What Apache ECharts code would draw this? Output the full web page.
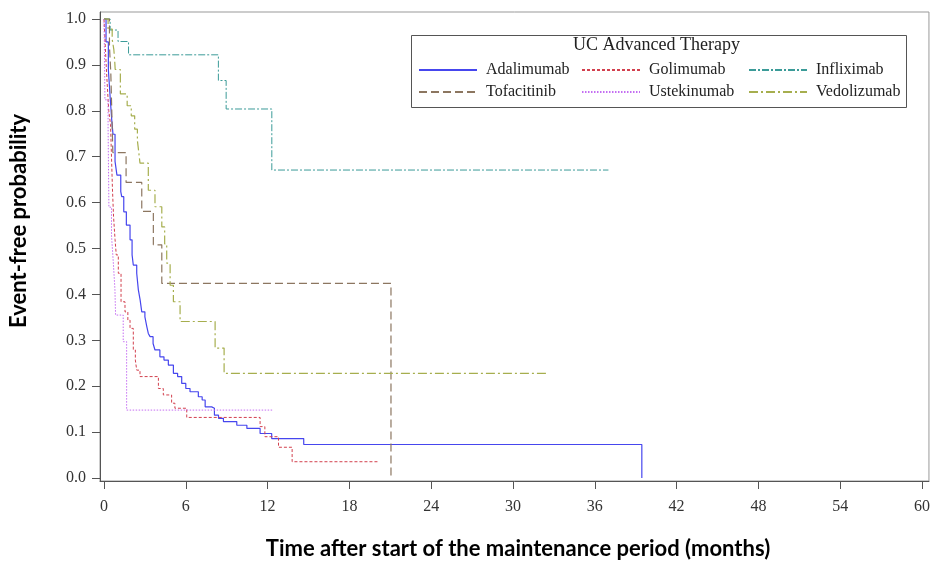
<!DOCTYPE html>
<html>
<head>
<meta charset="utf-8">
<title>UC Advanced Therapy - event-free probability</title>
<script src="https://cdn.jsdelivr.net/npm/echarts@6/dist/echarts.min.js"></script>
<style>
  html, body { margin: 0; padding: 0; background: #fff; }
  #chart { width: 933px; height: 562px; }
</style>
</head>
<body>
<div id="chart"></div>
<script>
// Kaplan-Meier step data (months, survival after the drop)
const adaTime = [0, 0.15, 0.32, 0.45, 0.57, 0.66, 0.81, 0.95, 1.23, 1.3, 1.45, 1.64, 1.91, 2.06, 2.15, 2.4, 2.52, 2.65, 2.77, 3.0, 3.14, 3.25, 3.38, 3.6, 3.74, 4.1, 4.4, 4.72, 5.09, 5.4, 5.7, 6.0, 6.31, 6.92, 7.2, 7.42, 7.9, 8.1, 8.4, 8.76, 9.74, 10.48, 11.45, 12.3, 14.65, 39.45];
const adaSurv = [1, 0.95, 0.89, 0.83, 0.78, 0.749, 0.69, 0.66, 0.624, 0.613, 0.58, 0.551, 0.519, 0.486, 0.464, 0.446, 0.41, 0.388, 0.362, 0.351, 0.33, 0.315, 0.308, 0.293, 0.279, 0.264, 0.257, 0.246, 0.228, 0.221, 0.206, 0.195, 0.188, 0.177, 0.17, 0.155, 0.152, 0.137, 0.13, 0.123, 0.115, 0.108, 0.097, 0.086, 0.073, 0];

const golTime = [0, 0.08, 0.16, 0.25, 0.35, 0.48, 0.55, 0.62, 0.7, 0.81, 0.9, 1.05, 1.25, 1.54, 1.75, 1.91, 2.15, 2.3, 2.4, 2.64, 3.99, 4.35, 4.96, 5.2, 6.07, 11.45, 11.8, 12.8, 13.8, 20.2];
const golSurv = [1, 0.95, 0.9, 0.85, 0.8, 0.77, 0.7, 0.63, 0.57, 0.52, 0.486, 0.446, 0.384, 0.362, 0.344, 0.326, 0.279, 0.257, 0.235, 0.221, 0.195, 0.181, 0.163, 0.152, 0.132, 0.112, 0.09, 0.067, 0.0355, 0.0355];

const infTime = [0, 0.45, 1.03, 1.8, 8.39, 8.96, 12.31, 37.0];
const infSurv = [1, 0.976, 0.951, 0.922, 0.866, 0.804, 0.671, 0.671];

const tofTime = [0, 0.4, 0.5, 0.55, 0.6, 0.65, 1.62, 2.77, 3.62, 4.24, 21.05];
const tofSurv = [1, 0.941, 0.882, 0.824, 0.765, 0.709, 0.644, 0.581, 0.508, 0.424, 0];

const ustTime = [0, 0.03, 0.05, 0.07, 0.3, 0.32, 0.34, 0.36, 0.55, 0.68, 0.8, 0.85, 1.41, 1.66, 12.43];
const ustSurv = [1, 0.941, 0.882, 0.824, 0.765, 0.706, 0.647, 0.59, 0.529, 0.471, 0.412, 0.355, 0.297, 0.148, 0.148];

const vedTime = [0, 0.3, 0.6, 0.72, 0.78, 0.82, 1.2, 1.7, 2.0, 2.25, 2.45, 2.55, 2.64, 3.25, 3.74, 4.24, 4.45, 4.6, 4.85, 5.09, 5.58, 8.15, 8.81, 32.5];
const vedSurv = [1, 0.978, 0.956, 0.934, 0.912, 0.89, 0.837, 0.811, 0.789, 0.76, 0.735, 0.71, 0.686, 0.627, 0.591, 0.547, 0.51, 0.468, 0.42, 0.384, 0.341, 0.283, 0.228, 0.228];

const xTicks = [0, 6, 12, 18, 24, 30, 36, 42, 48, 54, 60];
const yTicks = [0, 0.1, 0.2, 0.3, 0.4, 0.5, 0.6, 0.7, 0.8, 0.9, 1.0];

const pairs = (t, s) => t.map((v, i) => [v, s[i]]);

const serif = 'Liberation Serif';
const sans = 'Lato';

const kmSeries = (name, t, s, color, type, width) => ({
  name: name,
  type: 'line',
  step: 'end',
  symbol: 'none',
  animation: false,
  data: pairs(t, s),
  lineStyle: { color: color, width: width || 1, type: type },
  itemStyle: { color: color }
});

const chart = echarts.init(document.getElementById('chart'));

const legendCommon = {
  orient: 'vertical',
  top: 62,
  padding: 0,
  itemWidth: 58,
  itemHeight: 14,
  itemGap: 6,
  itemStyle: { opacity: 0 },
  textStyle: { fontFamily: serif, fontSize: 16, color: '#222', padding: [0, 0, 0, 4] },
  selectedMode: false
};

const option = {
  backgroundColor: '#fff',
  grid: {
    left: 100, right: 3, top: 12, bottom: 81,
    show: true, borderColor: '#999', borderWidth: 1
  },
  xAxis: {
    type: 'value',
    min: -0.293, max: 60.51,
    axisLine: { show: true, onZero: false, lineStyle: { color: '#555' } },
    axisTick: { show: true, length: 8, customValues: xTicks, lineStyle: { color: '#555' } },
    axisLabel: {
      customValues: xTicks, margin: 18,
      fontFamily: serif, fontSize: 16, color: '#333'
    },
    splitLine: { show: false }
  },
  yAxis: {
    type: 'value',
    min: -0.0065, max: 1.0153,
    axisLine: { show: true, onZero: false, lineStyle: { color: '#555' } },
    axisTick: { show: true, length: 8, customValues: yTicks, lineStyle: { color: '#555' } },
    axisLabel: {
      customValues: yTicks, margin: 14,
      fontFamily: serif, fontSize: 16, color: '#333',
      formatter: v => v.toFixed(1)
    },
    splitLine: { show: false }
  },
  legend: [
    Object.assign({ left: 418, data: ['Adalimumab', 'Tofacitinib'] }, legendCommon),
    Object.assign({ left: 581, data: ['Golimumab', 'Ustekinumab'] }, legendCommon),
    Object.assign({ left: 748, data: ['Infliximab', 'Vedolizumab'] }, legendCommon)
  ],
  graphic: [
    {
      type: 'rect', silent: true, z: 0,
      shape: { x: 411.5, y: 35.5, width: 495, height: 72 },
      style: { fill: '#fff', stroke: '#555', lineWidth: 1 }
    },
    {
      type: 'text', silent: true, z: 1, left: 573, top: 36,
      style: { text: 'UC Advanced Therapy', font: '18px "Liberation Serif"', fill: '#222' }
    },
    {
      type: 'text', silent: true,
      x: 518, y: 549,
      style: {
        text: 'Time after start of the maintenance period (months)',
        font: 'bold 22px "' + sans + '"', fill: '#000',
        align: 'center', verticalAlign: 'middle'
      }
    },
    {
      type: 'text', silent: true,
      x: 19, y: 221, rotation: Math.PI / 2,
      style: {
        text: 'Event-free probability',
        font: 'bold 22px "' + sans + '"', fill: '#000',
        align: 'center', verticalAlign: 'middle'
      }
    }
  ],
  series: [
    kmSeries('Adalimumab', adaTime, adaSurv, '#4646ee', 'solid', 1.2),
    kmSeries('Golimumab', golTime, golSurv, '#d2404e', [3, 2]),
    kmSeries('Infliximab', infTime, infSurv, '#3b9b98', [7, 2, 2, 2]),
    kmSeries('Tofacitinib', tofTime, tofSurv, '#8c7660', [8, 4], 1.2),
    kmSeries('Ustekinumab', ustTime, ustSurv, '#c46ef2', [1.5, 1.5]),
    kmSeries('Vedolizumab', vedTime, vedSurv, '#a6ae4e', [9, 3, 2, 3], 1.2)
  ]
};

chart.setOption(option);
</script>
</body>
</html>
